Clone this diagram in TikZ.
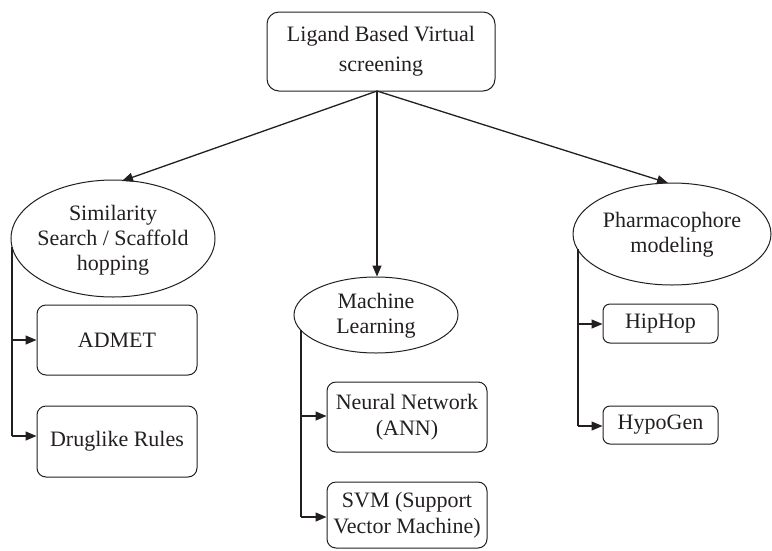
\documentclass[tikz,border=0pt]{standalone}
\usepackage{fontspec}
\setmainfont{Liberation Serif}
\usetikzlibrary{shapes.geometric,arrows.meta}
\definecolor{ink}{HTML}{231F20}
\begin{document}
\begin{tikzpicture}[x=1pt,y=-1pt,
  every node/.style={text=ink},
  lbl/.style={font=\fontsize{22}{25}\selectfont, align=center, inner sep=0pt},
  rbox/.style={draw=ink, line width=1pt, rounded corners=9pt, inner sep=0pt, align=center,
     font=\fontsize{22}{25.5}\selectfont},
  ell/.style={draw=ink, line width=1pt, ellipse, inner sep=0pt},
  arr/.style={draw=ink, line width=1.3pt, -{Triangle[length=11pt,width=9pt]}},
  bus/.style={draw=ink, line width=1.3pt}]
\useasboundingbox (0,0) rectangle (772,550);
% top
\node[rbox, rounded corners=12pt, minimum width=228pt, minimum height=79pt,
  font=\fontsize{22}{30}\selectfont] (top) at (381,51.5)
  {Ligand Based Virtual\\screening};
\coordinate (o) at (377,91);
% ellipses
\node[ell, minimum width=204pt, minimum height=117pt] (sim) at (113,238.5) {};
\node[lbl] (simt) at (113,240) {Similarity\\Search / Scaffold\\hopping};
\node[ell, minimum width=164pt, minimum height=76pt] (ml) at (376,315) {};
\node[lbl] (mlt) at (376,316) {Machine\\Learning};
\node[ell, minimum width=198pt, minimum height=102pt] (ph) at (672,234) {};
\node[lbl] (pht) at (672,235) {Pharmacophore\\modeling};
% leaves
\node[rbox, minimum width=160pt, minimum height=70pt] (admet) at (117,340) {ADMET};
\node[rbox, minimum width=160pt, minimum height=71pt] (drug) at (117,441.5) {Druglike Rules};
\node[rbox, minimum width=160pt, minimum height=70pt] (nn) at (407,417) {Neural Network\\(ANN)};
\node[rbox, minimum width=160pt, minimum height=66pt] (svm) at (407,515) {SVM (Support\\Vector Machine)};
\node[rbox, rounded corners=7pt, minimum width=115pt, minimum height=39pt] (hip) at (660.5,323.5) {HipHop};
\node[rbox, rounded corners=7pt, minimum width=115pt, minimum height=38pt] (hypo) at (660.5,425) {HypoGen};
% top arrows
\draw[arr] (o) -- (122,181);
\draw[arr] (o) -- (ml.north -| o);
\draw[arr] (o) -- (668,183);
% buses
\coordinate (sb) at (12,247);
\coordinate (mb) at (301,330);
\coordinate (pb) at (578,249);
\draw[bus] (sb) -- (12,436);
\draw[arr] (12,340) -- (admet.west);
\draw[arr] (12,436) -- (drug.west |- 0,436);
\draw[bus] (mb) -- (301,517);
\draw[arr] (301,416) -- (nn.west |- 0,416);
\draw[arr] (301,517) -- (svm.west |- 0,517);
\draw[bus] (pb) -- (578,426);
\draw[arr] (578,324) -- (hip.west |- 0,324);
\draw[arr] (578,426) -- (hypo.west |- 0,426);
\end{tikzpicture}
\end{document}
